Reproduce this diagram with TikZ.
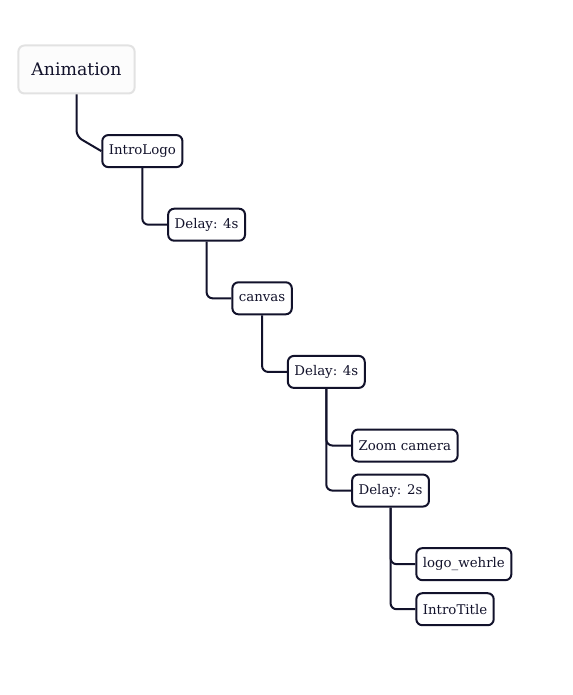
\documentclass[tikz,border=0pt]{standalone}
\usepackage{fontspec}
\setmainfont{DejaVu Serif}
\usetikzlibrary{positioning}
\definecolor{tinta}{HTML}{12122B}
\definecolor{gris}{HTML}{E2E2E2}

\begin{document}
\begin{tikzpicture}[x=0.75pt, y=-0.75pt, font=\fontsize{10}{12}\selectfont,
      n/.style={draw=tinta, fill=white, rounded corners=4.5pt, line width=1.5pt,
                minimum height=24pt, inner xsep=4.9pt, text=tinta},
      e/.style={draw=tinta, line width=1.5pt, rounded corners=4.5pt}]
    \useasboundingbox (0,0) rectangle (572,695);
    \node[draw=gris, fill=gray!2, rounded corners=4.5pt, line width=1.5pt, minimum height=36pt,
          inner xsep=9.8pt, text=tinta, font=\fontsize{13}{15}\selectfont] (anim) at (76.5,69.5) {Animation};
    \node[n, below right=29.7pt and 18.6pt of anim.south] (intro) {IntroLogo};
    \node[n, below right=29.7pt and 18.6pt of intro.south] (dly1) {Delay: 4s};
    \node[n, below right=29.7pt and 18.6pt of dly1.south] (canv) {canvas};
    \node[n, below right=29.7pt and 18.6pt of canv.south] (dly2) {Delay: 4s};
    \node[n, below right=29.7pt and 18.6pt of dly2.south] (zoom) {Zoom camera};
    \node[n, below right=8.3pt and 0pt of zoom.south west] (dly3) {Delay: 2s};
    \node[n, below right=29.7pt and 18.6pt of dly3.south] (logo) {logo\_wehrle};
    \node[n, below right=8.3pt and 0pt of logo.south west] (title) {IntroTitle};
    \draw[e] (anim.south) -- ++(0,42) -- (intro.west);
    \draw[e] (intro.south) |- (dly1.west); \draw[e] (dly1.south) |- (canv.west);
    \draw[e] (canv.south) |- (dly2.west);
    \draw[e] (dly2.south) |- (zoom.west); \draw[e] (dly2.south) |- (dly3.west);
    \draw[e] (dly3.south) |- (logo.west); \draw[e] (dly3.south) |- (title.west);
  \end{tikzpicture}
\end{document}
